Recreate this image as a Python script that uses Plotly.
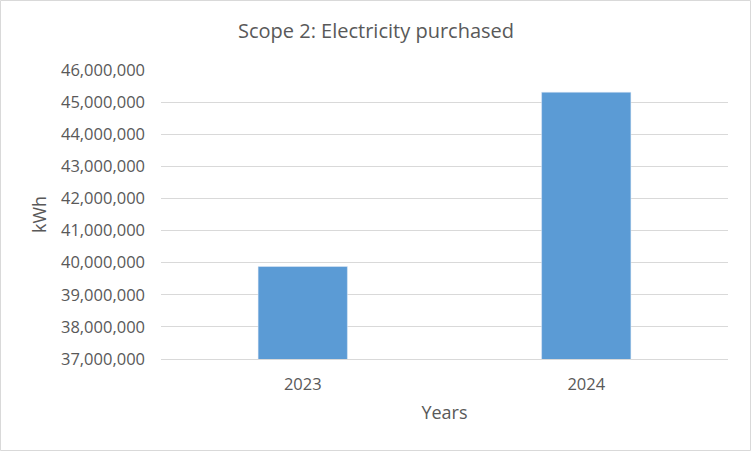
import plotly.graph_objects as go

years = ["2023", "2024"]
kwh = [39880000, 45310000]
y_ticks = list(range(37000000, 46000001, 1000000))
y_tick_labels = [f"{v:,}" for v in y_ticks]

L, R, T, B = 161, 24, 70, 93
PW, PH = 752 - L - R, 452 - T - B

fig = go.Figure()
fig.add_trace(go.Bar(x=years, y=kwh, marker_color="#5B9BD5", width=0.315))

fig.update_layout(
    width=752, height=452,
    margin=dict(l=L, r=R, t=T, b=B),
    paper_bgcolor="white", plot_bgcolor="white",
    font=dict(family="Open Sans, Liberation Sans, sans-serif", color="#595959", size=16),
    title=dict(text="Scope 2: Electricity purchased", x=0.5, xanchor="center",
               y=1 - 31 / 452, yanchor="middle",
               font=dict(size=20, color="#595959")),
    showlegend=False,
    bargap=0.685,
    xaxis=dict(title=dict(text="Years", font=dict(size=18, color="#595959"), standoff=12),
               showline=True, linecolor="#D9D9D9", linewidth=1, ticks="",
               ticklabelstandoff=10, tickfont=dict(size=16.5)),
    yaxis=dict(title=dict(text="kWh", font=dict(size=18, color="#595959"), standoff=9),
               range=[37000000, 46000000], tickvals=y_ticks, ticktext=y_tick_labels,
               showgrid=True, gridcolor="#D9D9D9", gridwidth=1, zeroline=False,
               ticks="", ticklabelstandoff=15, tickfont=dict(size=16.5)),
    shapes=[dict(type="rect", xref="paper", yref="paper",
                 x0=-(L - 0.5) / PW, x1=1 + (R - 1.5) / PW,
                 y0=-(B - 1.5) / PH, y1=1 + (T - 0.5) / PH,
                 line=dict(color="#D9D9D9", width=1), fillcolor="rgba(0,0,0,0)")],
)
fig.write_html("out.html", post_script="document.body.style.margin='0';",
               config={"displayModeBar": False})
